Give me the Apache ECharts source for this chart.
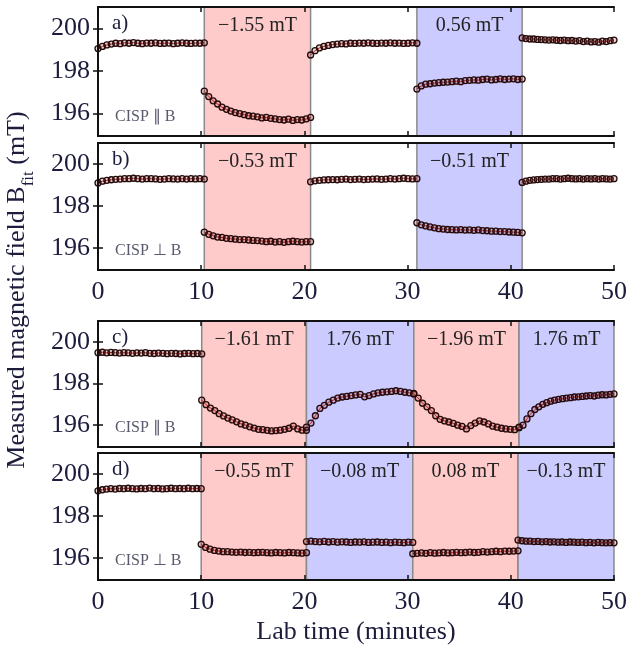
<!DOCTYPE html>
<html><head><meta charset="utf-8">
<script src="https://cdn.jsdelivr.net/npm/echarts@6/dist/echarts.min.js"></script>
<style>html,body{margin:0;padding:0;background:#fff}#c{width:628px;height:647px}</style>
</head><body><div id="c"></div>
<script>
// ---------- data ----------
const panelNames = ['a)', 'b)', 'c)', 'd)'];
const orientationLabels = ['CISP \u2225 B', 'CISP \u22a5 B', 'CISP \u2225 B', 'CISP \u22a5 B'];
const yTickValues = [196, 198, 200];
const xMin = 0, xMax = 50, xInterval = 10;
const yMin = 194.95, yMax = 201;

// segment boundaries (minutes)
const edgesA = [0, 10.3, 20.6, 30.9, 41.1, 50];
const edgesB = [0, 10.3, 20.6, 30.9, 41.1, 50];
const edgesC = [0, 10.05, 20.2, 30.6, 40.8, 50];
const edgesD = [0, 10.0, 20.2, 30.5, 40.7, 50];

// shaded coil periods: [start, end, kind, label]
const regionsA = [[10.3, 20.6, 'neg', '\u22121.55 mT'], [30.9, 41.1, 'pos', '0.56 mT']];
const regionsB = [[10.3, 20.6, 'neg', '\u22120.53 mT'], [30.9, 41.1, 'pos', '\u22120.51 mT']];
const regionsC = [[10.05, 20.2, 'neg', '\u22121.61 mT'], [20.2, 30.6, 'pos', '1.76 mT'], [30.6, 40.8, 'neg', '\u22121.96 mT'], [40.8, 50, 'pos', '1.76 mT']];
const regionsD = [[10.0, 20.2, 'neg', '\u22120.55 mT'], [20.2, 30.5, 'pos', '\u22120.08 mT'], [30.5, 40.7, 'neg', '0.08 mT'], [40.7, 50, 'pos', '\u22120.13 mT']];

// measured field (mT), one array per segment
const panelA = [
  [199.05,199.15,199.22,199.26,199.3,199.28,199.32,199.3,199.33,199.3,199.28,199.31,199.3,199.32,199.29,199.3,199.31,199.28,199.3,199.32,199.3,199.29,199.31,199.3,199.32],
  [197.05,196.8,196.6,196.45,196.3,196.2,196.12,196.05,196.0,195.95,195.9,195.88,195.85,195.8,195.82,195.78,195.75,195.72,195.7,195.74,195.68,195.72,195.7,195.75,195.82],
  [198.75,198.95,199.08,199.15,199.2,199.24,199.26,199.28,199.27,199.3,199.29,199.31,199.3,199.32,199.3,199.29,199.31,199.3,199.32,199.3,199.31,199.29,199.3,199.32,199.3],
  [197.15,197.3,197.38,197.4,197.43,197.45,197.47,197.48,197.5,197.52,197.5,197.55,197.56,197.58,197.57,197.6,197.62,197.58,197.6,197.63,197.6,197.62,197.63,197.6,197.62],
  [199.55,199.52,199.5,199.5,199.48,199.47,199.46,199.45,199.46,199.44,199.43,199.45,199.42,199.43,199.4,199.42,199.38,199.4,199.36,199.38,199.35,199.4,199.38,199.42,199.45]
];
const panelB = [
  [199.1,199.18,199.22,199.25,199.27,199.28,199.3,199.3,199.32,199.3,199.28,199.3,199.3,199.29,199.27,199.28,199.3,199.29,199.28,199.3,199.28,199.3,199.29,199.3,199.28],
  [196.75,196.65,196.58,196.52,196.5,196.46,196.44,196.42,196.4,196.4,196.38,196.36,196.35,196.33,196.3,196.32,196.28,196.3,196.27,196.3,196.32,196.3,196.28,196.3,196.3],
  [199.15,199.2,199.22,199.24,199.25,199.26,199.25,199.27,199.28,199.26,199.27,199.28,199.26,199.27,199.28,199.29,199.27,199.28,199.3,199.28,199.3,199.32,199.3,199.29,199.3],
  [197.2,197.1,197.05,197.0,196.96,196.92,196.9,196.88,196.87,196.86,196.87,196.85,196.86,196.84,196.86,196.83,196.82,196.8,196.8,196.78,196.78,196.76,196.75,196.74,196.72],
  [199.12,199.18,199.22,199.24,199.26,199.27,199.28,199.28,199.3,199.3,199.28,199.3,199.32,199.3,199.29,199.3,199.28,199.3,199.29,199.3,199.28,199.3,199.29,199.28,199.3]
];
const panelC = [
  [199.48,199.5,199.47,199.49,199.48,199.46,199.48,199.47,199.45,199.47,199.46,199.48,199.45,199.44,199.46,199.45,199.43,199.45,199.44,199.42,199.44,199.45,199.43,199.44,199.42],
  [197.2,196.98,196.82,196.7,196.55,196.44,196.34,196.25,196.16,196.06,196.0,195.92,195.86,195.8,195.78,195.75,195.72,195.74,195.76,195.8,195.85,195.95,195.82,195.76,195.75],
  [195.9,196.1,196.45,196.8,196.95,197.1,197.2,197.3,197.35,197.38,197.42,197.45,197.48,197.36,197.42,197.5,197.55,197.58,197.6,197.62,197.65,197.62,197.58,197.55,197.52],
  [197.5,197.3,197.05,196.88,196.7,196.45,196.28,196.2,196.15,196.08,196.0,195.94,195.82,195.98,196.1,196.2,196.15,196.06,195.95,195.9,195.85,195.82,195.8,195.78,195.88],
  [195.9,196.0,196.3,196.55,196.75,196.88,197.0,197.08,197.15,197.2,197.24,197.27,197.3,197.32,197.35,197.36,197.38,197.4,197.42,197.4,197.44,197.46,197.45,197.48,197.5]
];
const panelD = [
  [199.2,199.25,199.28,199.3,199.28,199.31,199.3,199.32,199.3,199.29,199.31,199.3,199.33,199.3,199.31,199.29,199.3,199.32,199.3,199.31,199.3,199.32,199.3,199.31,199.3],
  [196.65,196.5,196.42,196.36,196.33,196.3,196.3,196.28,196.27,196.28,196.26,196.27,196.25,196.26,196.27,196.25,196.24,196.26,196.25,196.24,196.26,196.25,196.24,196.23,196.25],
  [196.78,196.8,196.78,196.77,196.79,196.76,196.78,196.75,196.77,196.76,196.74,196.76,196.75,196.77,196.74,196.75,196.76,196.74,196.75,196.73,196.75,196.74,196.73,196.75,196.74],
  [196.2,196.22,196.24,196.22,196.25,196.23,196.24,196.26,196.24,196.25,196.27,196.25,196.26,196.28,196.26,196.27,196.3,196.28,196.3,196.32,196.3,196.33,196.32,196.33,196.34],
  [196.85,196.82,196.8,196.8,196.78,196.79,196.77,196.78,196.76,196.77,196.75,196.76,196.74,196.76,196.75,196.74,196.75,196.73,196.74,196.72,196.74,196.73,196.72,196.73,196.72]
];

// ---------- layout & style ----------
const FONT = 'Liberation Serif';
const GL = 98, GW = 516;
const gridTops = [7, 143, 321, 453];
const gridHeights = [129, 127, 126, 127];
const showXLabels = [false, true, false, true];
const regionColors = { neg: '#ffcaca', pos: '#cbcbff' };
const labelColor = '#1c1c3c';

const panels = [
  { edges: edgesA, regions: regionsA, segs: panelA },
  { edges: edgesB, regions: regionsB, segs: panelB },
  { edges: edgesC, regions: regionsC, segs: panelC },
  { edges: edgesD, regions: regionsD, segs: panelD }
];

const grid = [], xAxis = [], yAxis = [], series = [], graphic = [];
panels.forEach((p, i) => {
  grid.push({ left: GL, width: GW, top: gridTops[i], height: gridHeights[i], outerBoundsMode: 'none', containLabel: false });
  const axLine = { show: true, lineStyle: { color: '#111', width: 2 } };
  xAxis.push({
    type: 'value', gridIndex: i, min: xMin, max: xMax, interval: xInterval, position: 'bottom', z: 10,
    axisLine: axLine, splitLine: { show: false },
    axisTick: { show: true, inside: true, length: 5, lineStyle: { color: '#111', width: 1.5 } },
    axisLabel: { show: showXLabels[i], margin: 9, fontFamily: FONT, fontSize: 26, color: labelColor }
  });
  xAxis.push({
    type: 'value', gridIndex: i, min: xMin, max: xMax, interval: xInterval, position: 'top', z: 10,
    axisLine: axLine, splitLine: { show: false },
    axisTick: { show: true, inside: true, length: 5, lineStyle: { color: '#111', width: 1.5 } },
    axisLabel: { show: false }
  });
  yAxis.push({
    type: 'value', gridIndex: i, min: yMin, max: yMax, position: 'left', z: 10,
    axisLine: axLine, splitLine: { show: false },
    axisTick: { show: true, inside: true, length: 5, customValues: yTickValues, lineStyle: { color: '#111', width: 1.5 } },
    axisLabel: { show: true, customValues: yTickValues, margin: 8, fontFamily: FONT, fontSize: 26, color: labelColor }
  });
  yAxis.push({
    type: 'value', gridIndex: i, min: yMin, max: yMax, position: 'right', z: 10,
    axisLine: axLine, splitLine: { show: false },
    axisTick: { show: true, inside: true, length: 5, customValues: yTickValues, lineStyle: { color: '#111', width: 1.5 } },
    axisLabel: { show: false }
  });
  const xi = i * 2, yi = i * 2;
  // shaded regions
  series.push({
    type: 'line', xAxisIndex: xi, yAxisIndex: yi, data: [], z: 1, silent: true,
    markArea: {
      silent: true,
      label: { show: true, position: 'insideTop', distance: 9, fontFamily: FONT, fontSize: 20, color: '#222' },
      data: p.regions.map(r => [
        { name: r[3], xAxis: r[0], itemStyle: { color: regionColors[r[2]], borderColor: '#8a8a8a', borderWidth: 1.5 } },
        { xAxis: r[1] }
      ])
    }
  });
  // measured points
  p.segs.forEach((vals, k) => {
    const t0 = p.edges[k], t1 = p.edges[k + 1];
    const data = vals.map((v, j) => [t0 + j * (t1 - t0) / (vals.length - 1), v]);
    series.push({
      type: 'line', xAxisIndex: xi, yAxisIndex: yi, data, z: 3, silent: true,
      symbol: 'circle', symbolSize: 6, showSymbol: true,
      lineStyle: { color: '#c82020', width: 1 },
      itemStyle: { color: 'rgba(150,50,50,0.22)', borderColor: '#260a0a', borderWidth: 1.3 },
      emphasis: { disabled: true }
    });
  });
  graphic.push({
    type: 'text', left: GL + 14, top: gridTops[i] + 6, z: 20,
    style: { text: panelNames[i], font: '21px "' + FONT + '"', fill: labelColor }
  });
  graphic.push({
    type: 'text', left: GL + 17, top: gridTops[i] + gridHeights[i] - 27, z: 20,
    style: { text: orientationLabels[i], font: '16px "' + FONT + '"', fill: '#5a5a6e' }
  });
});

graphic.push({
  type: 'text', x: 24, y: 290, rotation: Math.PI / 2, z: 20,
  style: {
    text: '{a|Measured magnetic field B}{s|fit}{a| (mT)}',
    align: 'center', verticalAlign: 'middle',
    rich: {
      a: { fontFamily: FONT, fontSize: 26, lineHeight: 40, verticalAlign: 'top', fill: labelColor, color: labelColor },
      s: { fontFamily: FONT, fontSize: 17, lineHeight: 26, verticalAlign: 'top', padding: [16, 0, 0, 0], fill: labelColor, color: labelColor }
    }
  }
});
graphic.push({
  type: 'text', x: 356, y: 632, z: 20,
  style: { text: 'Lab time (minutes)', font: '26px "' + FONT + '"', fill: labelColor, align: 'center', verticalAlign: 'middle' }
});

const chart = echarts.init(document.getElementById('c'), null, { renderer: 'canvas' });
chart.setOption({
  animation: false,
  backgroundColor: '#fff',
  textStyle: { fontFamily: FONT },
  grid, xAxis, yAxis, series, graphic
});
</script></body></html>
